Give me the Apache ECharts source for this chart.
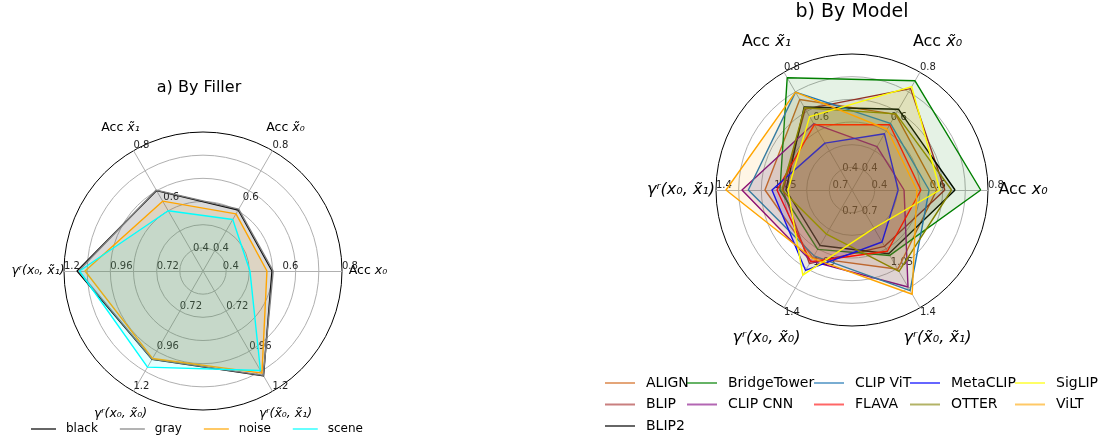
<!DOCTYPE html>
<html>
<head>
<meta charset="utf-8">
<script src="https://cdn.jsdelivr.net/npm/echarts@6/dist/echarts.min.js"></script>
<style>
html, body { margin: 0; padding: 0; background: #fff; }
#chart { width: 1103px; height: 440px; }
</style>
</head>
<body>
<div id="chart"></div>
<script>
// axes go counter-clockwise from the right, like the matplotlib version
const axisPrefix = ['Acc ', 'Acc ', 'Acc ', '', '', ''];
const axisMath = ['x₀', 'x̃₀', 'x̃₁', 'γʳ(x₀, x̃₁)', 'γʳ(x₀, x̃₀)', 'γʳ(x̃₀, x̃₁)'];

// value ranges of the axes (first three are accuracies, last three gamma)
const accRange = [1 / 3, 0.8];
const gammaRangeFiller = [0.48, 1.2];
const gammaRangeModel = [0.7 - 0.35 / 3, 1.4];
// tick labels that are printed
const fillerTickLabels = [0.4, 0.6, 0.8, 0.72, 0.96, 1.2];
const modelTickLabels = [0.4, 0.6, 0.8, 0.7, 1.05, 1.4];

// a) by filler
const fillerNames = ['black', 'gray', 'noise', 'scene'];
const fillerColors = ['#000000', '#808080', '#ffa500', '#00ffff'];
const fillerBlack = [0.565, 0.570, 0.645, 1.132, 1.008, 1.107];
const fillerGray = [0.569, 0.573, 0.647, 1.125, 1.007, 1.104];
const fillerNoise = [0.548, 0.555, 0.604, 1.091, 1.003, 1.091];
const fillerScene = [0.491, 0.533, 0.567, 1.120, 1.055, 1.075];
const fillerValues = [fillerBlack, fillerGray, fillerNoise, fillerScene];

// b) by model
const modelNames = ['ALIGN', 'BLIP', 'BLIP2', 'BridgeTower', 'CLIP CNN', 'CLIP ViT',
                    'FLAVA', 'MetaCLIP', 'OTTER', 'SigLIP', 'ViLT'];
const modelColors = ['#d2691e', '#a52a2a', '#000000', '#008000', '#800080', '#1f77b4',
                     '#ff0000', '#0000ff', '#808000', '#ffff00', '#ffa500'];
const align = [0.624, 0.633, 0.692, 1.106, 1.054, 1.133];
const blip = [0.652, 0.735, 0.654, 0.998, 1.094, 0.974];
const blip2 = [0.687, 0.653, 0.662, 0.980, 0.968, 1.025];
const bridgeTower = [0.775, 0.766, 0.778, 1.016, 0.995, 1.037];
const clipCnn = [0.512, 0.505, 0.596, 1.244, 1.076, 1.256];
const clipVit = [0.598, 0.597, 0.721, 1.206, 1.040, 1.281];
const flava = [0.570, 0.592, 0.592, 1.034, 1.081, 1.008];
const metaClip = [0.492, 0.556, 0.519, 1.064, 1.141, 0.944];
const otter = [0.675, 0.635, 0.659, 1.004, 0.890, 1.148];
const sigLip = [0.635, 0.743, 0.624, 0.968, 1.174, 0.848];
const vilt = [0.556, 0.574, 0.721, 1.340, 1.058, 1.306];
const modelValues = [align, blip, blip2, bridgeTower, clipCnn, clipVit,
                     flava, metaClip, otter, sigLip, vilt];

// legend columns of the model chart (matplotlib fills columns first)
const modelLegendCols = [[0, 1, 2], [3, 4], [5, 6], [7, 8], [9, 10]];
const modelLegendX = [605, 687, 814, 910, 1015];

const FONT = 'DejaVu Sans';
const gridColor = '#b0b0b0';
const DUMMY = [0.01, 0.08];   // range for axes whose labels another radar prints

function gridRadar(center, radius) {
    return {
        center: center, radius: radius, startAngle: 0, shape: 'circle', splitNumber: 6,
        indicator: axisMath.map(() => ({ name: '', min: 0, max: 6 })),
        axisName: { show: false },
        splitArea: { show: false },
        splitLine: { lineStyle: { color: [gridColor, gridColor, gridColor, gridColor, gridColor, gridColor, '#000'], width: 1 } },
        axisLine: { lineStyle: { color: gridColor, width: 1 } },
        axisTick: { show: false },
        axisLabel: { show: false }
    };
}

function bare(r) {
    r.splitArea = { show: false };
    r.splitLine = { show: false };
    r.axisLine = { show: false };
    r.axisTick = { show: false };
    return r;
}

// radar that carries the series and the axis names
function dataRadar(center, radius, gammaRange, nameSize, nameGap) {
    const it = { fontStyle: 'italic', fontSize: nameSize, fontFamily: FONT, color: '#000' };
    return bare({
        center: center, radius: radius, startAngle: 0, shape: 'circle', splitNumber: 7,
        indicator: axisMath.map((m, i) => ({
            name: axisPrefix[i] + '{i|' + m + '}',
            min: i < 3 ? accRange[0] : gammaRange[0],
            max: i < 3 ? accRange[1] : gammaRange[1]
        })),
        nameGap: nameGap,
        axisName: {
            show: true, color: '#000', fontSize: nameSize, fontFamily: FONT,
            align: 'center', verticalAlign: 'middle', rich: { i: it }
        },
        axisLabel: { show: false }
    });
}

// radar that only prints tick labels; ranges[i] null -> dummy axis
function labelRadar(center, radius, ranges, splitNumber, labelSet, vAlign) {
    return bare({
        center: center, radius: radius, startAngle: 0, shape: 'circle', splitNumber: splitNumber,
        indicator: ranges.map(r => ({ name: '', min: (r || DUMMY)[0], max: (r || DUMMY)[1] })),
        axisName: { show: false },
        axisLabel: {
            show: true, fontSize: 10, color: '#222', fontFamily: FONT, margin: 0,
            align: 'left', verticalAlign: vAlign,
            formatter: v => {
                const r = Math.round(v * 100) / 100;
                return (Math.abs(v - r) < 1e-6 && labelSet.indexOf(r) >= 0) ? String(r) : '';
            }
        }
    });
}

function radarItems(names, colors, values) {
    return names.map((n, i) => ({
        name: n,
        value: values[i],
        itemStyle: { color: colors[i] },
        lineStyle: { color: colors[i], width: 1.4 },
        areaStyle: { color: colors[i], opacity: 0.1 }
    }));
}

const legendBase = {
    orient: 'horizontal', icon: 'rect', itemHeight: 2, selectedMode: false, padding: 0,
    itemStyle: { opacity: 0.6 }
};

const legends = [Object.assign({}, legendBase, {
    data: fillerNames, left: 31, top: 422, itemWidth: 25, itemGap: 22,
    textStyle: { fontSize: 12, fontFamily: FONT, color: '#000', lineHeight: 14, padding: [0, 0, 0, 5] }
})];
modelLegendCols.forEach((col, c) => {
    legends.push(Object.assign({}, legendBase, {
        orient: 'vertical', data: col.map(i => modelNames[i]),
        left: modelLegendX[c], top: 376, itemWidth: 30, itemGap: 7.5,
        textStyle: { fontSize: 14, fontFamily: FONT, color: '#000', lineHeight: 14, padding: [0, 0, 0, 6] }
    }));
});

const cLeft = [203, 271], rLeft = 139;
const cRight = [852, 190], rRight = 136;
const acc = accRange, gF = gammaRangeFiller, gM = gammaRangeModel;

const chart = echarts.init(document.getElementById('chart'));
chart.setOption({
    backgroundColor: '#fff',
    animation: false,
    textStyle: { fontFamily: FONT },
    graphic: [
        { type: 'text', x: 199, y: 88, style: { text: 'a) By Filler', font: '16px "DejaVu Sans"', fill: '#000', align: 'center', verticalAlign: 'middle' } },
        { type: 'text', x: 852, y: 12, style: { text: 'b) By Model', font: '19px "DejaVu Sans"', fill: '#000', align: 'center', verticalAlign: 'middle' } }
    ],
    legend: legends,
    radar: [
        gridRadar(cLeft, rLeft),                                                   // 0
        dataRadar(cLeft, rLeft, gF, 12.5, 26),                                     // 1
        labelRadar(cLeft, rLeft, [acc, acc, acc, gF, gF, gF], 21, fillerTickLabels, 'bottom'),
        gridRadar(cRight, rRight),                                                 // 3
        dataRadar(cRight, rRight, gM, 16, 35),                                     // 4
        labelRadar(cRight, rRight, [acc, acc, acc, gM, null, null], 7, modelTickLabels, 'bottom'),
        labelRadar(cRight, rRight, [null, null, null, null, gM, gM], 7, modelTickLabels, 'top')
    ],
    series: [
        { type: 'radar', radarIndex: 1, symbol: 'none', data: radarItems(fillerNames, fillerColors, fillerValues) },
        { type: 'radar', radarIndex: 4, symbol: 'none', data: radarItems(modelNames, modelColors, modelValues) }
    ]
});
</script>
</body>
</html>
